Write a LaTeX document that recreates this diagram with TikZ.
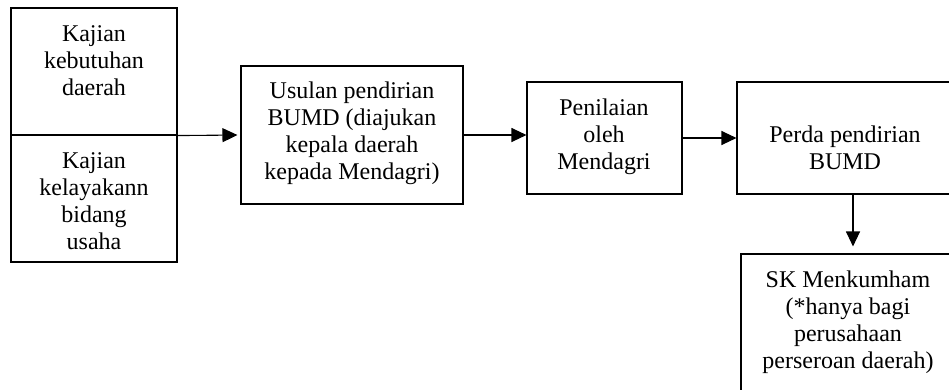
\documentclass[tikz,border=0pt]{standalone}
\usepackage{fontspec}
\setmainfont{Liberation Serif}
\usetikzlibrary{arrows.meta}
\newcommand{\ls}{\rule[-8pt]{0pt}{27pt}}
\tikzset{
  boxshape/.style={draw=black, line width=1.1pt, inner sep=0pt},
  boxtext/.style={align=center, inner sep=0pt, font={\fontsize{24}{27}\selectfont}},
  flow/.style={draw=black, line width=1.1pt, -{Triangle[length=15pt,width=14pt]}}
}
\begin{document}
\begin{tikzpicture}[x=1pt,y=-1pt]
\useasboundingbox (0,0) rectangle (949,389);
\clip (0,0) rectangle (949,389);
\fill[white] (0,0) rectangle (949,389);
% boxes
\node[boxshape, minimum width=166pt, minimum height=127pt] (kb) at (94,71.5) {};
\node[boxshape, minimum width=166pt, minimum height=127pt] (kk) at (94,198.5) {};
\node[boxshape, minimum width=222pt, minimum height=138pt] (us) at (352,135) {};
\node[boxshape, minimum width=155pt, minimum height=112pt] (pn) at (604.5,138) {};
\node[boxshape, minimum width=232pt, minimum height=112pt] (pd) at (853,138) {};
\node[boxshape, minimum width=224pt, minimum height=160pt] (sk) at (853,334) {};
% texts
\node[boxtext] (tkb) at (94,62.5) {\ls Kajian\\\ls kebutuhan\\\ls daerah};
\node[boxtext] (tkk) at (94,203) {\ls Kajian\\\ls kelayakann\\\ls bidang\\\ls usaha};
\node[boxtext] (tus) at (352,133) {\ls Usulan pendirian\\\ls BUMD (diajukan\\\ls kepala daerah\\\ls kepada Mendagri)};
\node[boxtext] (tpn) at (604,136.5) {\ls Penilaian\\\ls oleh\\\ls Mendagri};
\node[boxtext] (tpd) at (845,150) {\ls Perda pendirian\\\ls BUMD};
\node[boxtext] (tsk) at (848,322) {\ls SK Menkumham\\\ls (*hanya bagi\\\ls perusahaan\\\ls perseroan daerah)};
% connectors
\draw[flow, shorten >=3pt] (kb.south east) -- (us.west);
\draw[flow] (us.east) -- (us.east -| pn.west);
\draw[flow] (pn.east) -- (pd.west);
\draw[flow, shorten >=7pt] (pd.south) -- (sk.north);
\end{tikzpicture}
\end{document}
